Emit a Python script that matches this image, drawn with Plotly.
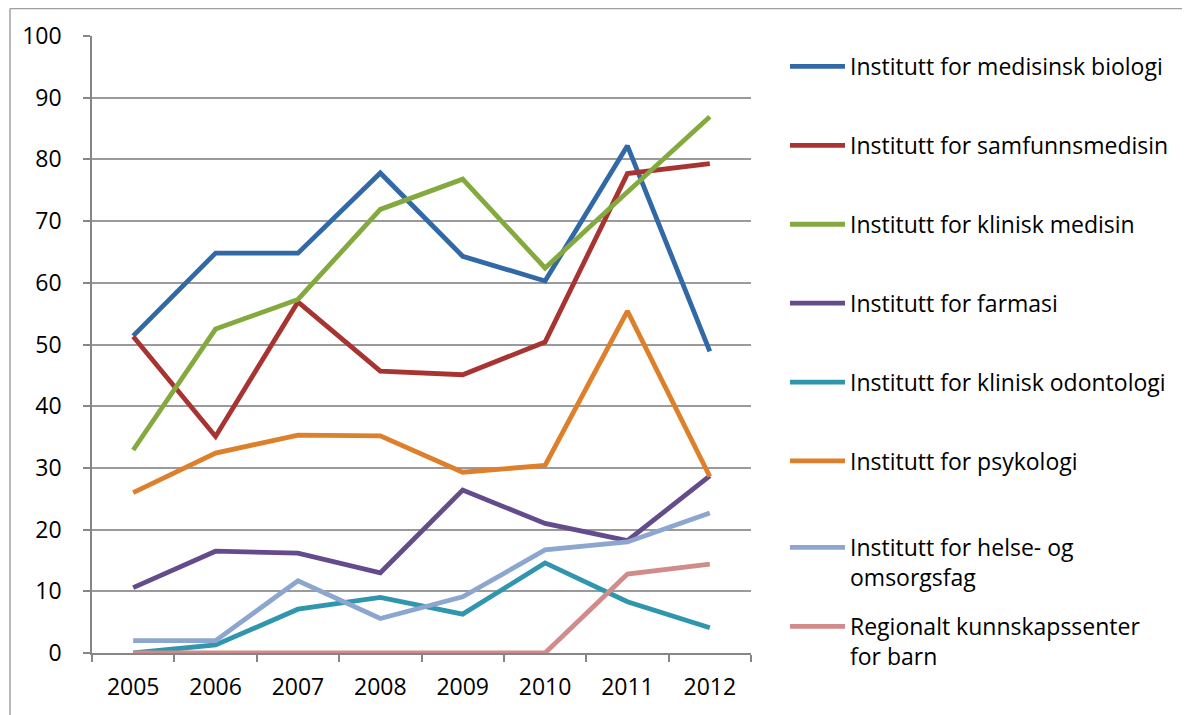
import plotly.graph_objects as go

years = ["2005", "2006", "2007", "2008", "2009", "2010", "2011", "2012"]

medisinsk_biologi = [51.4, 64.8, 64.8, 77.8, 64.3, 60.3, 82.2, 48.9]
samfunnsmedisin = [51.3, 35.1, 56.9, 45.7, 45.1, 50.4, 77.7, 79.3]
klinisk_medisin = [32.9, 52.5, 57.3, 71.9, 76.8, 62.4, 74.7, 86.9]
farmasi = [10.6, 16.5, 16.2, 13.0, 26.4, 21.0, 18.2, 28.7]
klinisk_odontologi = [0.0, 1.3, 7.1, 9.0, 6.3, 14.6, 8.3, 4.1]
psykologi = [26.0, 32.4, 35.3, 35.2, 29.3, 30.4, 55.4, 28.6]
helse_omsorgsfag = [2.0, 2.0, 11.7, 5.6, 9.1, 16.7, 18.0, 22.7]
regionalt_barn = [0.0, 0.0, 0.0, 0.0, 0.0, 0.0, 12.8, 14.4]

series_names = [
    "Institutt for medisinsk biologi",
    "Institutt for samfunnsmedisin",
    "Institutt for klinisk medisin",
    "Institutt for farmasi",
    "Institutt for klinisk odontologi",
    "Institutt for psykologi",
    "Institutt for helse- og<br>omsorgsfag",
    "Regionalt kunnskapssenter<br>for barn",
]
series_values = [
    medisinsk_biologi, samfunnsmedisin, klinisk_medisin, farmasi,
    klinisk_odontologi, psykologi, helse_omsorgsfag, regionalt_barn,
]
colors = ["#3169A7", "#A83431", "#84A93F", "#644C8C",
          "#2F96AE", "#DE7F2B", "#8DA6CF", "#D08B8A"]
# which legend box each series is listed in (two-line entries get their own)
legend_ids = ["legend"] * 6 + ["legend2", "legend3"]

FONT = "Open Sans"

# page has an 8px body margin; figure sized so it fits in the window
W, H = 1182, 707
L, T = 84, 28
PW, PH = 659, 617
R, B = W - L - PW, H - T - PH

fig = go.Figure()
for name, vals, col, lg in zip(series_names, series_values, colors, legend_ids):
    fig.add_trace(go.Scatter(
        x=years, y=vals, mode="lines", name=name, legendgroup=name,
        legend=lg, line=dict(color=col, width=4.8), hoverinfo="x+y+name",
    ))

LX = 1.0 + (785 - 751) / PW


def legend_box(top_px):
    return dict(
        x=LX, xanchor="left",
        y=1.0 - (top_px - 36) / PH, yanchor="top",
        tracegroupgap=46, itemwidth=55, valign="top",
        maxheight=690,
        font=dict(family=FONT, size=23, color="black"),
        bgcolor="rgba(0,0,0,0)",
    )


fig.update_layout(
    width=W, height=H,
    margin=dict(l=L, r=R, t=T, b=B, autoexpand=False),
    paper_bgcolor="white", plot_bgcolor="white",
    font=dict(family=FONT, size=23, color="black"),
    showlegend=True,
    legend=legend_box(45),
    legend2=legend_box(526),
    legend3=legend_box(605),
    xaxis=dict(
        type="category", range=[-0.5, 7.5],
        showgrid=False, showline=True, linecolor="#868686", linewidth=1.5,
        ticks="outside", tickson="boundaries", ticklen=7, tickcolor="#868686",
        tickwidth=1.5, ticklabelstandoff=13,
        tickfont=dict(family=FONT, size=23, color="black"),
        fixedrange=True,
    ),
    yaxis=dict(
        range=[0, 100], dtick=10, tick0=0,
        showgrid=True, gridcolor="#9A9A9A", gridwidth=1.5,
        showline=True, linecolor="#868686", linewidth=1.5,
        ticks="outside", ticklen=7, tickcolor="#868686", tickwidth=1.5,
        ticklabelstandoff=17,
        tickfont=dict(family=FONT, size=23, color="black"),
        zeroline=False, fixedrange=True,
    ),
)

# chart-area border (left and top edges visible in the reference)
bx = (2 - L) / PW
by = 1 + (T - 0.5) / PH
fig.add_shape(type="line", xref="paper", yref="paper",
              x0=bx, x1=bx, y0=-B / PH - 0.05, y1=by,
              line=dict(color="#A0A0A0", width=1.5))
fig.add_shape(type="line", xref="paper", yref="paper",
              x0=bx, x1=(W - L) / PW + 0.05, y0=by, y1=by,
              line=dict(color="#A0A0A0", width=1.5))

fig.write_html("out.html")
